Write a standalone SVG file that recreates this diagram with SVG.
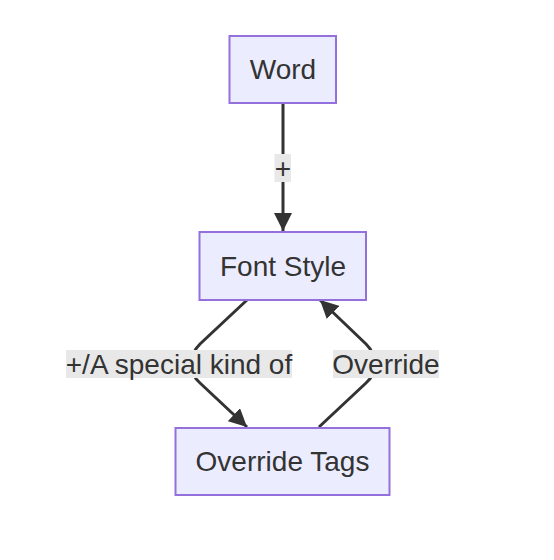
<svg xmlns="http://www.w3.org/2000/svg" width="554" height="560" viewBox="0 0 554 560">
<style>
.node rect{fill:#ECECFF;stroke:#9370DB;stroke-width:2}
.node text{font-family:"Liberation Sans",Arial,sans-serif;font-size:28px;fill:#333;text-anchor:middle;dominant-baseline:central}
.edge path{fill:none;stroke:#333;stroke-width:3}
.lbl rect{fill:#e8e8e8}
.lbl text{font-family:"Liberation Sans",Arial,sans-serif;font-size:28px;fill:#333;text-anchor:middle;dominant-baseline:central}
</style>
<defs>
<marker id="arr" markerUnits="userSpaceOnUse" markerWidth="18" markerHeight="18" refX="17" refY="8.5" orient="auto" viewBox="0 0 17 17">
<path d="M0,0 L17,8.5 L0,17 z" fill="#333"/>
</marker>
</defs>
<rect width="554" height="560" fill="#ffffff"/>
<g id="edges" class="edge">
<path d="M283,103 L283,231" marker-end="url(#arr)"/>
<path d="M247,300 L200,344 Q191,353 191,364 Q191,375 200,383 L247,427" marker-end="url(#arr)"/>
<path d="M319,427 L366,383 Q375,375 375,364 Q375,353 366,344 L320,300" marker-end="url(#arr)"/>
</g>
<g id="labels">
<g class="lbl"><rect x="274.5" y="154" width="16.5" height="28"/><text x="283" y="168">+</text></g>
<g class="lbl"><rect x="66" y="350" width="226" height="28"/><text x="179" y="364">+/A special kind of</text></g>
<g class="lbl"><rect x="333" y="350" width="106" height="28"/><text x="386" y="364">Override</text></g>
</g>
<g id="word" class="node"><rect x="229.5" y="36" width="106.5" height="67"/><text x="283" y="69.5">Word</text></g>
<g id="fontstyle" class="node"><rect x="199.5" y="232" width="166.5" height="68"/><text x="283" y="266">Font Style</text></g>
<g id="overridetags" class="node"><rect x="175.5" y="428" width="214" height="67"/><text x="282.5" y="461.5">Override Tags</text></g>
</svg>
